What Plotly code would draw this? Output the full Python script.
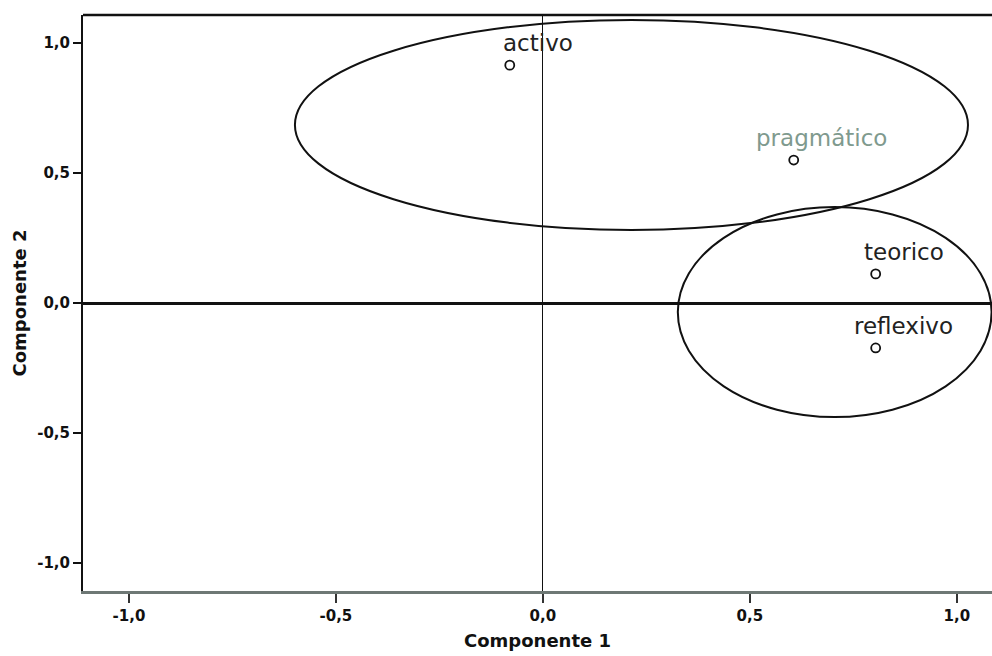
import plotly.graph_objects as go

# Data
labels = ["activo", "pragmático", "teorico", "reflexivo"]
comp1 = [-0.08, 0.606, 0.804, 0.804]
comp2 = [0.915, 0.55, 0.112, -0.173]
label_colors = ["#222222", "#7f9a8e", "#222222", "#222222"]

# ellipses: center x, center y, semi-axis x, semi-axis y
ell_cx = [0.214, 0.705]
ell_cy = [0.685, -0.035]
ell_rx = [0.813, 0.379]
ell_ry = [0.404, 0.404]

tick_vals = [-1.0, -0.5, 0.0, 0.5, 1.0]

fig = go.Figure()
fig.add_trace(go.Scatter(
    x=comp1, y=comp2, mode="markers",
    marker=dict(symbol="circle-open", size=9, color="#111111", line=dict(width=1.8)),
    hoverinfo="skip", showlegend=False,
))

for lab, x, y, c in zip(labels, comp1, comp2, label_colors):
    fig.add_annotation(x=x, y=y, text=lab, showarrow=False, xshift=28, yshift=22,
                       font=dict(family="DejaVu Sans", size=23, color=c))

for cx, cy, rx, ry in zip(ell_cx, ell_cy, ell_rx, ell_ry):
    fig.add_shape(type="circle", xref="x", yref="y",
                  x0=cx - rx, x1=cx + rx, y0=cy - ry, y1=cy + ry,
                  line=dict(color="#111111", width=2), layer="above")

# top frame line
fig.add_shape(type="line", xref="paper", yref="paper", x0=0, x1=1, y0=1, y1=1,
              line=dict(color="#111111", width=2.5))

tick_text = [("%.1f" % v).replace(".", ",") for v in tick_vals]

fig.update_layout(
    width=992, height=656,
    margin=dict(l=83, r=0, t=15, b=65),
    plot_bgcolor="white", paper_bgcolor="white",
    showlegend=False,
    xaxis=dict(
        range=[-1.111, 1.085], tickvals=tick_vals, ticktext=tick_text,
        showgrid=False, zeroline=True, zerolinecolor="#111111", zerolinewidth=1.2,
        showline=True, linecolor="#6e7875", linewidth=3,
        ticks="outside", ticklen=9, tickwidth=2, tickcolor="#333333",
        tickfont=dict(family="DejaVu Sans", size=15, color="#111111", weight="bold"),
        title=dict(text="Componente 1", standoff=11,
                   font=dict(family="DejaVu Sans", size=18, color="#111111", weight="bold")),
        automargin=False,
    ),
    yaxis=dict(
        range=[-1.108, 1.108], tickvals=tick_vals, ticktext=tick_text,
        showgrid=False, zeroline=True, zerolinecolor="#111111", zerolinewidth=2.5,
        showline=True, linecolor="#111111", linewidth=2,
        ticks="outside", ticklen=8, tickwidth=2, tickcolor="#111111",
        tickfont=dict(family="DejaVu Sans", size=15, color="#111111", weight="bold"),
        title=dict(text="Componente 2", standoff=6,
                   font=dict(family="DejaVu Sans", size=18, color="#111111", weight="bold")),
        automargin=False,
    ),
)

fig.write_html("out.html")
